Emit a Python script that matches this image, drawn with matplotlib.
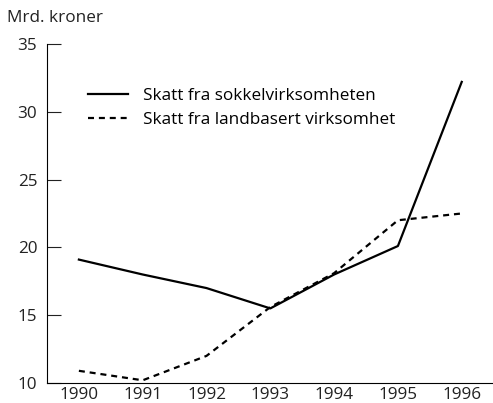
import matplotlib.pyplot as plt

plt.rcParams['font.family'] = ['Open Sans', 'DejaVu Sans']

years = [1990, 1991, 1992, 1993, 1994, 1995, 1996]
sokkel = [19.1, 18.0, 17.0, 15.5, 18.0, 20.1, 32.2]
landbasert = [10.9, 10.2, 12.0, 15.6, 18.1, 22.0, 22.5]

fs = 12.3

fig = plt.figure(figsize=(4.93, 4.03), dpi=100)
ax = fig.add_axes([0.0953, 0.0496, 0.9047, 0.8414])

ax.plot(years, sokkel, color='black', lw=1.6, label='Skatt fra sokkelvirksomheten')
ax.plot(years, landbasert, color='black', lw=1.6, ls=(0, (2.7, 2.2)),
        label='Skatt fra landbasert virksomhet')

ax.set_xlim(1989.50, 1996.49)
ax.set_ylim(10, 35)
ax.set_xticks(years)
ax.set_yticks([10, 15, 20, 25, 30, 35])
ax.tick_params(axis='x', length=0, labelsize=fs, pad=3, colors='#222222')
ax.tick_params(axis='y', direction='in', length=10, width=0.8, labelsize=fs,
               pad=7, colors='#222222')
for s in ['top', 'right']:
    ax.spines[s].set_visible(False)
for s in ['left', 'bottom']:
    ax.spines[s].set_linewidth(0.8)

fig.text(0.014, 0.955, 'Mrd. kroner', fontsize=fs, color='#222222', va='center')

ax.legend(loc='upper left', bbox_to_anchor=(0.076, 0.889), frameon=False,
          fontsize=fs, handlelength=2.35, handletextpad=0.9, labelspacing=0.42,
          borderaxespad=0)

fig.savefig('out.png', dpi=100)
